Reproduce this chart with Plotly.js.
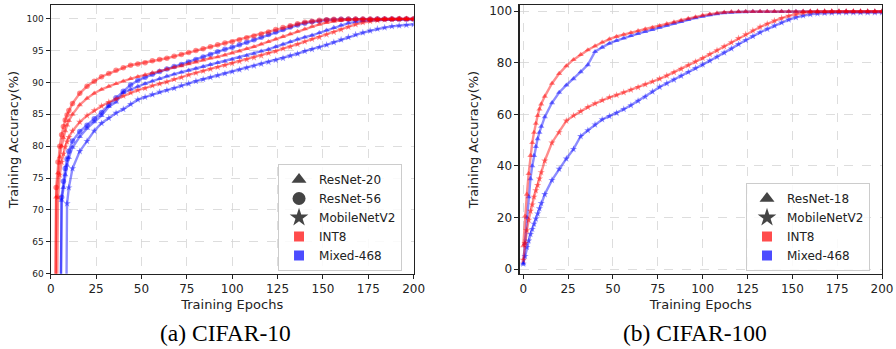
<!DOCTYPE html>
<html>
<head>
<meta charset="utf-8">
<script src="https://cdn.plot.ly/plotly-3.0.1.min.js"></script>
<style>html,body{margin:0;padding:0;background:#fff;}#chart{width:896px;height:349px;}</style>
</head>
<body>
<div id="chart"></div>
<script>
// ---------- data ----------
const epochs = [0,1,2,3,4,5,6,7,8,9,10,12,16,20,24,28,32,36,40,44,48,52,56,60,64,68,72,76,80,84,88,92,96,100,104,108,112,116,120,124,128,132,136,140,144,148,152,156,160,164,168,172,176,180,184,188,192,196,200];

// CIFAR-10
const c10_resnet56_int8 = [20,25,30,73.5,77.5,80.0,81.8,83.1,84.1,84.9,85.6,86.7,88.3,89.4,90.2,90.9,91.4,91.9,92.3,92.7,92.9,93.1,93.4,93.6,93.8,94.1,94.4,94.7,95.0,95.3,95.6,95.9,96.2,96.4,96.7,97.0,97.3,97.6,97.9,98.3,98.6,98.9,99.2,99.45,99.6,99.75,99.85,99.9,99.93,99.95,99.95,99.96,99.96,99.97,99.97,99.97,99.98,99.98,99.98];
const c10_resnet20_int8 = [18,22,25,72,75.8,78.3,80.0,81.3,82.4,83.3,84.0,85.0,86.5,87.5,88.3,88.9,89.4,89.8,90.2,90.6,90.9,91.2,91.5,91.8,92.1,92.4,92.6,92.9,93.2,93.5,93.8,94.0,94.3,94.6,94.9,95.3,95.6,96.0,96.4,96.8,97.2,97.6,98.0,98.4,98.8,99.1,99.4,99.6,99.75,99.85,99.9,99.92,99.93,99.94,99.95,99.95,99.96,99.96,99.96];
const c10_mobilenet_int8 = [15,20,30,40,72,75.5,77.5,78.8,79.9,80.7,81.4,82.4,83.8,84.8,85.6,86.3,86.9,87.4,87.9,88.4,88.8,89.1,89.5,89.8,90.1,90.5,90.8,91.2,91.5,91.8,92.1,92.4,92.7,93.0,93.3,93.6,93.9,94.2,94.6,94.9,95.3,95.6,96.0,96.4,96.8,97.1,97.5,97.9,98.3,98.7,99.1,99.4,99.6,99.75,99.85,99.9,99.92,99.93,99.94];
const c10_resnet56_mixed = [10,15,20,25,30,40,72,74.5,76.5,78,79.2,80.8,82.3,83.3,84.3,85.3,86.5,87.6,88.6,89.6,90.3,90.8,91.3,91.7,92.1,92.5,92.8,93.2,93.6,94.0,94.4,94.8,95.2,95.5,95.9,96.3,96.7,97.1,97.5,97.9,98.3,98.7,99.0,99.3,99.5,99.65,99.8,99.85,99.9,99.9,99.92,99.93,99.93,99.94,99.94,99.95,99.95,99.95,99.95];
const c10_resnet20_mixed = [8,12,18,22,28,35,71.5,73.5,75.5,77,78.2,79.8,81.5,82.8,83.8,84.8,86.2,86.9,88.4,88.9,89.4,89.8,90.2,90.6,91.0,91.3,91.6,91.9,92.2,92.5,92.8,93.1,93.3,93.6,93.9,94.2,94.5,94.9,95.2,95.6,96.0,96.4,96.8,97.1,97.4,97.8,98.2,98.6,99.0,99.3,99.5,99.65,99.75,99.8,99.85,99.85,99.9,99.9,99.9];
const c10_mobilenet_mixed = [5,8,10,14,17,20,23,26,30,71,73.5,76.5,79.2,80.8,82.4,83.6,84.4,85.2,85.8,86.6,87.3,87.7,88.1,88.5,88.8,89.1,89.5,89.8,90.2,90.5,90.8,91.1,91.4,91.7,92.0,92.3,92.6,92.9,93.2,93.5,93.8,94.2,94.5,94.9,95.2,95.5,95.9,96.3,96.7,97.1,97.5,97.8,98.1,98.4,98.6,98.8,98.9,99.0,99.1];

// CIFAR-100
const c100_resnet18_int8 = [9,20.5,29,37,44,49,53,56.5,59.5,62,64,67,72,75.8,78.8,81.2,83.2,85.0,86.5,88.0,89.2,90.2,91.0,91.7,92.4,93.1,93.7,94.4,95.1,95.8,96.5,97.2,97.8,98.4,98.9,99.3,99.6,99.75,99.85,99.9,99.9,99.92,99.92,99.93,99.93,99.94,99.94,99.95,99.95,99.95,99.95,99.96,99.96,99.96,99.96,99.96,99.97,99.97,99.97];
const c100_resnet18_mixed = [2,10,20,28,35,40,44,47.5,50.5,53,55.3,59,64.5,68.5,71.3,73.8,76.5,79.2,84.3,86.0,87.5,88.6,89.6,90.5,91.3,92.1,92.9,93.7,94.5,95.3,96.0,96.7,97.4,98.0,98.6,99.0,99.4,99.6,99.75,99.8,99.85,99.85,99.87,99.88,99.88,99.89,99.89,99.9,99.9,99.9,99.9,99.9,99.9,99.9,99.9,99.9,99.9,99.9,99.9];
const c100_mobilenet_int8 = [3.5,10,15,19,22.5,25,28,30.5,32.5,35,37.5,42,49,53,57.5,59.5,61.2,62.8,64.2,65.5,66.6,67.5,68.5,69.5,70.5,71.6,72.7,73.8,75.0,76.3,77.6,79.0,80.4,81.8,83.3,84.8,86.3,87.9,89.5,91.0,92.5,93.9,95.1,96.3,97.3,98.2,98.9,99.4,99.7,99.8,99.85,99.87,99.88,99.9,99.9,99.9,99.9,99.9,99.9];
const c100_mobilenet_mixed = [2,5,8.5,11,13.5,15.5,17.5,19.5,21.5,23.5,25.5,29,34.5,38.8,42.8,46.5,51.5,53.8,56.0,58.0,59.3,60.5,62.0,63.5,65.2,66.8,68.8,70.6,72.0,73.4,74.9,76.4,77.9,79.3,80.8,82.3,83.9,85.5,87.2,88.8,90.3,91.8,93.1,94.4,95.6,96.7,97.6,98.3,98.8,99.1,99.3,99.4,99.45,99.5,99.5,99.5,99.5,99.5,99.5];

const xTicks = [0,25,50,75,100,125,150,175,200];
const c10Ticks = [60,65,70,75,80,85,90,95,100];
const c100Ticks = [0,20,40,60,80,100];
const legendC10 = ['ResNet-20','ResNet-56','MobileNetV2','INT8','Mixed-468'];
const legendC100 = ['ResNet-18','MobileNetV2','INT8','Mixed-468'];
const captions = ['(a) CIFAR-10','(b) CIFAR-100'];

// ---------- styling ----------
const RED = 'rgba(255,0,0,0.45)';
const BLUE = 'rgba(0,0,255,0.45)';
const GREY = '#444444';
const LRED = '#ff4c4c';
const LBLUE = '#4c4cff';

function curve(y, color, symbol, xa, ya) {
  return {
    x: epochs, y: y, xaxis: xa, yaxis: ya,
    type: 'scatter', mode: 'lines+markers', showlegend: false, hoverinfo: 'skip',
    line: {color: color, width: 2.4},
    marker: {color: color, symbol: symbol, size: 5.5, line: {width: 0}}
  };
}
function dummy(name, color, symbol, size, xa, ya, leg) {
  return {
    x: [null], y: [null], xaxis: xa, yaxis: ya, legend: leg,
    type: 'scatter', mode: 'markers', name: name, showlegend: true,
    marker: {color: color, symbol: symbol, size: size, line: {width: 0}}
  };
}

const traces = [
  curve(c10_mobilenet_mixed, BLUE, 'star', 'x', 'y'),
  curve(c10_resnet20_mixed, BLUE, 'triangle-up', 'x', 'y'),
  curve(c10_resnet56_mixed, BLUE, 'circle', 'x', 'y'),
  curve(c10_mobilenet_int8, RED, 'star', 'x', 'y'),
  curve(c10_resnet20_int8, RED, 'triangle-up', 'x', 'y'),
  curve(c10_resnet56_int8, RED, 'circle', 'x', 'y'),
  curve(c100_mobilenet_mixed, BLUE, 'star', 'x2', 'y2'),
  curve(c100_resnet18_mixed, BLUE, 'triangle-up', 'x2', 'y2'),
  curve(c100_mobilenet_int8, RED, 'star', 'x2', 'y2'),
  curve(c100_resnet18_int8, RED, 'triangle-up', 'x2', 'y2'),
  dummy(legendC10[0], GREY, 'triangle-up', 13, 'x', 'y', 'legend'),
  dummy(legendC10[1], GREY, 'circle', 13, 'x', 'y', 'legend'),
  dummy(legendC10[2], GREY, 'star', 14, 'x', 'y', 'legend'),
  dummy(legendC10[3], LRED, 'square', 10, 'x', 'y', 'legend'),
  dummy(legendC10[4], LBLUE, 'square', 10, 'x', 'y', 'legend'),
  dummy(legendC100[0], GREY, 'triangle-up', 13, 'x2', 'y2', 'legend2'),
  dummy(legendC100[1], GREY, 'star', 14, 'x2', 'y2', 'legend2'),
  dummy(legendC100[2], LRED, 'square', 10, 'x2', 'y2', 'legend2'),
  dummy(legendC100[3], LBLUE, 'square', 10, 'x2', 'y2', 'legend2')
];

const axBase = {
  showline: true, mirror: true, linecolor: '#222', linewidth: 1.2,
  ticks: 'outside', ticklen: 4, tickwidth: 1, tickcolor: '#222',
  showgrid: true, gridcolor: '#d4d4d4', gridwidth: 0.8, griddash: 'dash',
  zeroline: false, fixedrange: true
};
const titleFont = {family: 'DejaVu Sans', size: 13, color: '#222'};

const legBase = {
  xanchor: 'left', yanchor: 'top', bgcolor: 'rgba(255,255,255,0.85)',
  bordercolor: '#cccccc', borderwidth: 1, itemsizing: 'trace',
  font: {family: 'DejaVu Sans', size: 12, color: '#222'}, tracegroupgap: 0
};

const layout = {
  width: 896, height: 349,
  margin: {l: 0, r: 0, t: 0, b: 0},
  paper_bgcolor: '#ffffff', plot_bgcolor: '#ffffff',
  font: {family: 'DejaVu Sans', color: '#222'},
  showlegend: true,
  xaxis: Object.assign({}, axBase, {
    domain: [0.0566, 0.4617], range: [0, 200], tickvals: xTicks, anchor: 'y',
    tickfont: {size: 12}, title: {text: 'Training Epochs', font: titleFont, standoff: 4}
  }),
  yaxis: Object.assign({}, axBase, {
    domain: [0.2158, 0.9848], range: [60, 102.1], tickvals: c10Ticks, anchor: 'x',
    tickfont: {size: 9}, title: {text: 'Training Accuracy(%)', font: titleFont, standoff: 5}
  }),
  xaxis2: Object.assign({}, axBase, {
    domain: [0.58, 0.9844], range: [-2, 200], tickvals: xTicks, anchor: 'y2',
    tickfont: {size: 12}, title: {text: 'Training Epochs', font: titleFont, standoff: 4}
  }),
  yaxis2: Object.assign({}, axBase, {
    domain: [0.2158, 0.9848], range: [-1.8, 102.3], tickvals: c100Ticks, anchor: 'x2',
    tickfont: {size: 12}, title: {text: 'Training Accuracy(%)', font: titleFont, standoff: 7}
  }),
  legend: Object.assign({}, legBase, {x: 0.3103, y: 0.5301}),
  legend2: Object.assign({}, legBase, {x: 0.8326, y: 0.4756}),
  annotations: [
    {text: captions[0], xref: 'paper', yref: 'paper', x: 0.2522, y: 0.0458, xanchor: 'center', yanchor: 'middle',
     showarrow: false, font: {family: 'Liberation Serif', size: 23.5, color: '#000'}},
    {text: captions[1], xref: 'paper', yref: 'paper', x: 0.7753, y: 0.0458, xanchor: 'center', yanchor: 'middle',
     showarrow: false, font: {family: 'Liberation Serif', size: 23.5, color: '#000'}}
  ]
};

Plotly.newPlot('chart', traces, layout, {staticPlot: true, displayModeBar: false});
</script>
</body>
</html>
